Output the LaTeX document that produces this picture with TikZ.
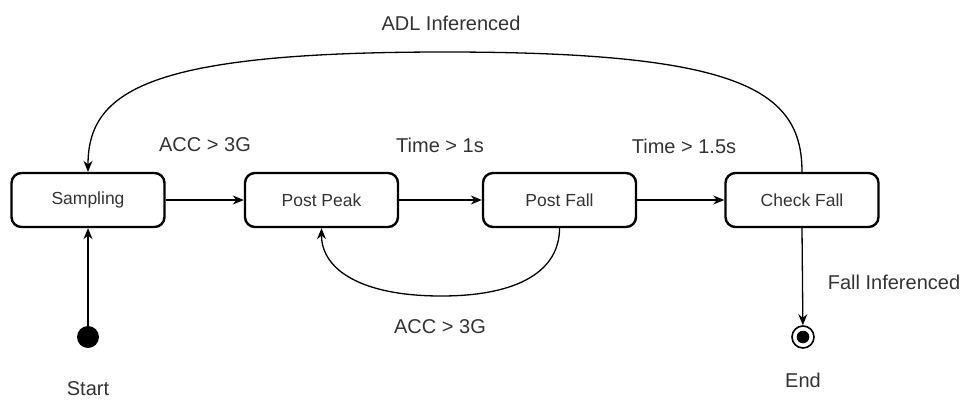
\documentclass[tikz,border=0pt]{standalone}
\usepackage{fontspec}
\setmainfont{Liberation Sans}
\usetikzlibrary{arrows.meta}
\definecolor{txt}{HTML}{333333}
\tikzset{
  state/.style={draw, line width=2.4pt, rounded corners=10pt, minimum width=153pt, minimum height=54pt, inner sep=0pt, text=txt, font=\fontsize{17.5}{20}\selectfont},
  lbl/.style={text=txt, font=\fontsize{20}{24}\selectfont, inner sep=0pt},
  conn/.style={line width=1.3pt, -{Stealth[length=11pt,width=9pt]}}
}
\begin{document}
\begin{tikzpicture}[x=1pt,y=-1pt]
\useasboundingbox (0,0) rectangle (964,402);
\node[state] (sampling) at (88,200) {Sampling};
\node[state] (postpeak) at (321.5,200) {Post Peak};
\node[state] (postfall) at (559.5,200) {Post Fall};
\node[state] (checkfall) at (802,200) {Check Fall};
\node[circle, fill=black, minimum size=22pt, inner sep=0pt] (start) at (88,337) {};
\node[circle, draw=black, line width=1.6pt, minimum size=22pt, inner sep=0pt] (end) at (803,337) {};
\fill (end.center) circle (6.3pt);

\draw[conn] (start) -- (sampling);
\draw[conn] (sampling) -- (postpeak);
\draw[conn] (postpeak) -- (postfall);
\draw[conn] (postfall) -- (checkfall);
\draw[conn] (checkfall.south) -- (end);
\draw[conn] (checkfall.north) .. controls (802,90) and (740,52) .. (445,52) .. controls (150,52) and (88,90) .. (sampling.north);
\draw[conn] (postfall.south) .. controls (559.5,270) and (520,296) .. (441,296) .. controls (362,296) and (321.5,270) .. (postpeak.south);

\node[lbl] (l1) at (205,145) {ACC > 3G};
\node[lbl] (l2) at (440,145) {Time > 1s};
\node[lbl] (l3) at (684,146) {Time > 1.5s};
\node[lbl] (l4) at (451,23) {ADL Inferenced};
\node[lbl] (l5) at (440,327) {ACC > 3G};
\node[lbl] (l6) at (894,282) {Fall Inferenced};
\node[lbl] (l7) at (88,389) {Start};
\node[lbl] (l8) at (803,380) {End};
\end{tikzpicture}
\end{document}
